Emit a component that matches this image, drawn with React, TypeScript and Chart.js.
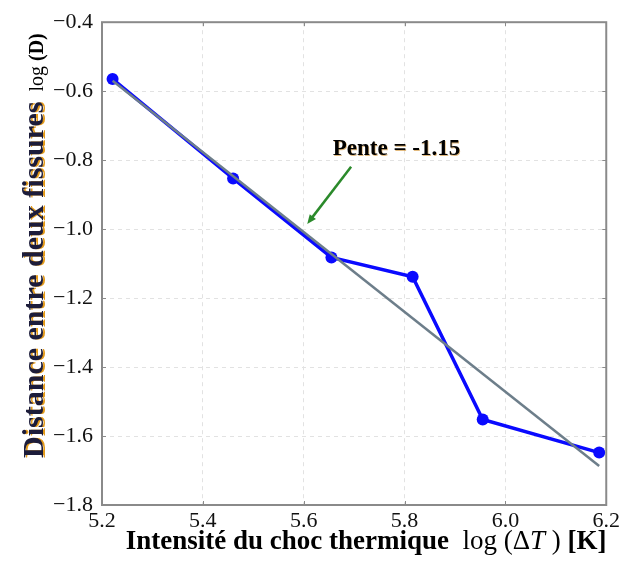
import React, { useEffect, useRef } from "react";
import { Chart, registerables } from "chart.js";

Chart.register(...registerables);

// ---- data ----
const logDeltaT = [5.221, 5.46, 5.655, 5.816, 5.955, 6.186];
const logD = [-0.565, -0.853, -1.082, -1.138, -1.552, -1.648];

const fitX = [5.221, 6.186];
const fitY = [-0.57, -1.687];

const X_MIN = 5.2;
const X_MAX = 6.2;
const Y_MIN = -1.8;
const Y_MAX = -0.4;
const STEP = 0.2;

const slopeLabel = "Pente = -1.15";
const labelPos = { x: 5.784, y: -0.768 };
const arrowFrom = { x: 5.694, y: -0.819 };
const arrowTo = { x: 5.607, y: -0.985 };

const yTitleMain = "Distance entre deux fissures";
const yTitleUnit = ["log ", "(D)"];
const xTitleMain = "Intensité du choc thermique";
const xTitleUnit = ["log (", "\u0394", "T", " ) ", "[K]"];

const SERIF = "'Liberation Serif', 'Times New Roman', serif";
const FRAME = "#8a8a8a";

const decorPlugin = {
  id: "decor",
  afterDatasetsDraw(chart: any) {
    const { ctx, scales } = chart;
    const xs = scales.x;
    const ys = scales.y;
    // arrow
    const x1 = xs.getPixelForValue(arrowFrom.x);
    const y1 = ys.getPixelForValue(arrowFrom.y);
    const x2 = xs.getPixelForValue(arrowTo.x);
    const y2 = ys.getPixelForValue(arrowTo.y);
    const ang = Math.atan2(y2 - y1, x2 - x1);
    const head = 10;
    ctx.save();
    ctx.strokeStyle = "#2b8a2b";
    ctx.fillStyle = "#2b8a2b";
    ctx.lineWidth = 2.5;
    ctx.beginPath();
    ctx.moveTo(x1, y1);
    ctx.lineTo(x2 - Math.cos(ang) * head * 0.7, y2 - Math.sin(ang) * head * 0.7);
    ctx.stroke();
    ctx.beginPath();
    ctx.moveTo(x2, y2);
    ctx.lineTo(x2 - head * Math.cos(ang - 0.4), y2 - head * Math.sin(ang - 0.4));
    ctx.lineTo(x2 - head * Math.cos(ang + 0.4), y2 - head * Math.sin(ang + 0.4));
    ctx.closePath();
    ctx.fill();
    // label
    ctx.font = `bold 23px ${SERIF}`;
    ctx.textAlign = "center";
    ctx.textBaseline = "middle";
    ctx.shadowColor = "rgba(200,120,0,0.5)";
    ctx.shadowOffsetX = 0.7;
    ctx.shadowOffsetY = 0.7;
    ctx.fillStyle = "#000";
    ctx.fillText(slopeLabel, xs.getPixelForValue(labelPos.x), ys.getPixelForValue(labelPos.y));
    ctx.restore();
  },
  afterDraw(chart: any) {
    const { ctx, chartArea: a, scales } = chart;
    ctx.save();
    // inward ticks
    ctx.strokeStyle = FRAME;
    ctx.lineWidth = 1;
    const tl = 4;
    scales.x.ticks.forEach((t: any) => {
      const px = Math.round(scales.x.getPixelForValue(t.value)) + 0.5;
      ctx.beginPath();
      ctx.moveTo(px, a.bottom);
      ctx.lineTo(px, a.bottom - tl);
      ctx.moveTo(px, a.top);
      ctx.lineTo(px, a.top + tl);
      ctx.stroke();
    });
    scales.y.ticks.forEach((t: any) => {
      const py = Math.round(scales.y.getPixelForValue(t.value)) + 0.5;
      ctx.beginPath();
      ctx.moveTo(a.left, py);
      ctx.lineTo(a.left + tl, py);
      ctx.moveTo(a.right, py);
      ctx.lineTo(a.right - tl, py);
      ctx.stroke();
    });
    // frame
    ctx.lineWidth = 2;
    ctx.strokeRect(a.left, a.top, a.right - a.left, a.bottom - a.top);

    // x title (mixed fonts)
    const parts: [string, string][] = [
      [xTitleMain, `bold 27px ${SERIF}`],
      ["  ", `27px ${SERIF}`],
      [xTitleUnit[0], `27px ${SERIF}`],
      [xTitleUnit[1], `27px ${SERIF}`],
      [xTitleUnit[2], `italic 27px ${SERIF}`],
      [xTitleUnit[3], `27px ${SERIF}`],
      [xTitleUnit[4], `bold 27px ${SERIF}`],
    ];
    let total = 0;
    parts.forEach(([s, f]) => {
      ctx.font = f;
      total += ctx.measureText(s).width;
    });
    let cx = (a.left + a.right) / 2 + 12 - total / 2;
    const by = a.bottom + 44;
    ctx.fillStyle = "#000";
    ctx.textBaseline = "alphabetic";
    ctx.textAlign = "left";
    parts.forEach(([s, f]) => {
      ctx.font = f;
      ctx.fillText(s, cx, by);
      cx += ctx.measureText(s).width;
    });

    // y title (rotated)
    ctx.save();
    const tx = 43;
    const midY = (a.top + a.bottom) / 2 - 18;
    ctx.translate(tx, midY);
    ctx.rotate(-Math.PI / 2);
    const yParts: [string, string, string, boolean][] = [
      [yTitleMain, `bold 30px ${SERIF}`, "#1c1c3a", true],
      ["  ", `20px ${SERIF}`, "#000", false],
      [yTitleUnit[0], `20px ${SERIF}`, "#000", false],
      [yTitleUnit[1], `bold 20px ${SERIF}`, "#000", false],
    ];
    let ytot = 0;
    yParts.forEach(([s, f]) => {
      ctx.font = f;
      ytot += ctx.measureText(s).width;
    });
    let yx = -ytot / 2;
    yParts.forEach(([s, f, c, sh]) => {
      ctx.font = f;
      ctx.fillStyle = c;
      if (sh) {
        ctx.shadowColor = "#e39a1a";
        ctx.shadowOffsetX = 1.5;
        ctx.shadowOffsetY = 0;
      } else {
        ctx.shadowColor = "transparent";
        ctx.shadowOffsetX = 0;
      }
      ctx.fillText(s, yx, 0);
      yx += ctx.measureText(s).width;
    });
    ctx.restore();
    ctx.restore();
  },
};

export default function App() {
  const ref = useRef<HTMLCanvasElement | null>(null);
  useEffect(() => {
    if (!ref.current) return;
    const fmt = (v: any) => Number(v).toFixed(1).replace("-", "\u2212");
    const chart = new Chart(ref.current, {
      type: "scatter",
      data: {
        datasets: [
          {
            label: "fit",
            data: fitX.map((x, i) => ({ x, y: fitY[i] })),
            showLine: true,
            borderColor: "#6d7e8a",
            backgroundColor: "#6d7e8a",
            borderWidth: 2.5,
            pointRadius: 0,
            order: 0,
          },
          {
            label: "data",
            data: logDeltaT.map((x, i) => ({ x, y: logD[i] })),
            showLine: true,
            borderColor: "#0a0aff",
            backgroundColor: "#0a0aff",
            borderWidth: 3.5,
            pointRadius: 6,
            pointBorderWidth: 0,
            order: 1,
          },
        ],
      },
      options: {
        responsive: false,
        animation: false,
        layout: { padding: { top: 22, right: 16, left: 0, bottom: 0 } },
        plugins: { legend: { display: false }, tooltip: { enabled: false } },
        scales: {
          x: {
            type: "linear",
            min: X_MIN,
            max: X_MAX,
            ticks: {
              stepSize: STEP,
              callback: fmt,
              font: { family: SERIF, size: 22 },
              color: "#111",
              padding: 3,
            },
            grid: { color: "#e2e2e2", drawTicks: false, lineWidth: 1 },
            border: { display: false, dash: [4, 4] },
            afterFit: (s: any) => {
              s.height = 60;
            },
          },
          y: {
            type: "linear",
            min: Y_MIN,
            max: Y_MAX,
            ticks: {
              stepSize: STEP,
              callback: fmt,
              font: { family: SERIF, size: 22 },
              color: "#111",
              padding: 9,
            },
            grid: { color: "#e2e2e2", drawTicks: false, lineWidth: 1 },
            border: { display: false, dash: [4, 4] },
            afterFit: (s: any) => {
              s.width = 102;
            },
          },
        },
      },
      plugins: [decorPlugin],
    } as any);
    return () => chart.destroy();
  }, []);
  return (
    <div style={{ position: "absolute", left: 0, top: 0, width: 623, height: 565, background: "#fff" }}>
      <canvas ref={ref} width={623} height={565} />
    </div>
  );
}
